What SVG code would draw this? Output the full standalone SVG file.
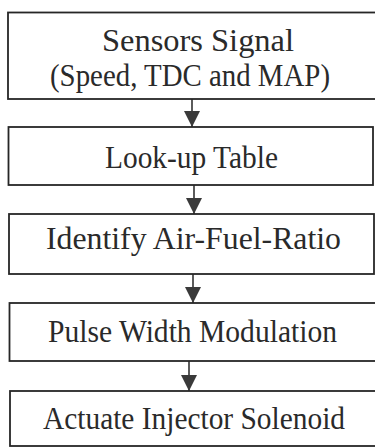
<svg xmlns="http://www.w3.org/2000/svg" width="375" height="447" viewBox="0 0 375 447">
  <defs>
    <style>
      .box { fill: #ffffff; stroke: #262626; stroke-width: 1.8; }
      .lbl { font-family: "Liberation Serif", "Times New Roman", serif; font-size: 31px; fill: #2a2a2a; text-anchor: middle; }
      .conn { stroke: #333333; stroke-width: 1.6; fill: none; }
    </style>
    <marker id="ah" markerUnits="userSpaceOnUse" markerWidth="18" markerHeight="16" refX="16" refY="8" orient="auto">
      <path d="M0,0 L16,8 L0,16 Z" fill="#3a3a3a"/>
    </marker>
  </defs>
  <rect width="375" height="447" fill="#ffffff"/>

  <g id="connectors">
    <line class="conn" x1="192" y1="99" x2="192" y2="127" marker-end="url(#ah)"/>
    <line class="conn" x1="194" y1="185" x2="194" y2="214" marker-end="url(#ah)"/>
    <line class="conn" x1="193" y1="274" x2="193" y2="303" marker-end="url(#ah)"/>
    <line class="conn" x1="189" y1="361" x2="189" y2="391" marker-end="url(#ah)"/>
  </g>

  <g id="node-sensors">
    <rect class="box" x="8" y="12.5" width="372" height="86.5"/>
    <text class="lbl" x="198" y="51" textLength="192" lengthAdjust="spacingAndGlyphs">Sensors Signal</text>
    <text class="lbl" x="190" y="86" textLength="280" lengthAdjust="spacingAndGlyphs">(Speed, TDC and MAP)</text>
  </g>

  <g id="node-lookup">
    <rect class="box" x="8.5" y="127" width="364.5" height="58"/>
    <text class="lbl" x="191.5" y="168" textLength="173" lengthAdjust="spacingAndGlyphs">Look-up Table</text>
  </g>

  <g id="node-afr">
    <rect class="box" x="9" y="214" width="365" height="60"/>
    <text class="lbl" x="193.5" y="249" textLength="295" lengthAdjust="spacingAndGlyphs">Identify Air-Fuel-Ratio</text>
  </g>

  <g id="node-pwm">
    <rect class="box" x="9.5" y="303" width="372" height="58"/>
    <text class="lbl" x="192.5" y="342" textLength="289" lengthAdjust="spacingAndGlyphs">Pulse Width Modulation</text>
  </g>

  <g id="node-actuate">
    <rect class="box" x="10" y="391" width="372" height="55"/>
    <text class="lbl" x="194" y="429" textLength="302" lengthAdjust="spacingAndGlyphs">Actuate Injector Solenoid</text>
  </g>
</svg>
